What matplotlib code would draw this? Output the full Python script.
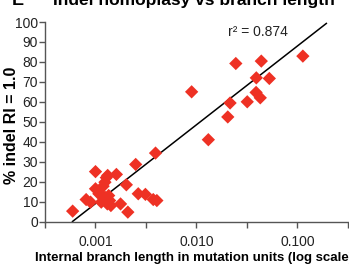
import numpy as np
import matplotlib
matplotlib.use("Agg")
import matplotlib.pyplot as plt
from matplotlib.ticker import FixedLocator, NullLocator

plt.rcParams['font.family'] = ['Liberation Sans', 'DejaVu Sans']

# branch length (mutation units) and % indel RI = 1.0
branch_len = [0.000594, 0.000808, 0.000893, 0.00100, 0.00100, 0.00108, 0.00114,
              0.00119, 0.00124, 0.00128, 0.00132, 0.00124, 0.00135, 0.00138,
              0.00142, 0.00161, 0.00131, 0.00177, 0.00202, 0.00209, 0.00250,
              0.00265, 0.00312, 0.00373, 0.00405, 0.00393,
              0.00895, 0.0131, 0.0204, 0.0215, 0.0245, 0.0318, 0.0389,
              0.0428, 0.0391, 0.0438, 0.0526, 0.113]
pct_ri = [5.2, 11.0, 9.7, 25.0, 16.4, 13.9, 9.7, 17.7, 19.7, 22.0, 23.1, 12.2,
          13.0, 10.5, 8.0, 23.6, 8.8, 8.8, 18.4, 4.7, 28.6, 13.9, 13.6, 11.0,
          10.5, 34.3,
          65.0, 41.0, 52.4, 59.4, 79.2, 60.0, 64.7, 62.0, 72.0, 80.4, 71.7, 82.9]

# regression line (y = slope*log10(x) + intercept)
fit_slope = 39.5
fit_intercept = 127.5
fit_x = [0.000592, 0.193]
r2_text = "r\u00b2 = 0.874"

x_ticks = [10 ** (-3.5 + 0.5 * k) for k in range(7)]
x_ticklabels = ["", "0.001", "", "0.010", "", "0.100", ""]
y_ticks = list(range(0, 101, 10))

fig = plt.figure(figsize=(3.49, 2.72), dpi=100)
W, H = 349, 272
ax = fig.add_axes([45 / W, (H - 221.5) / H, (348 - 45) / W, (221.5 - 22) / H])

fx = np.array(fit_x)
ax.plot(fx, fit_slope * np.log10(fx) + fit_intercept, color="black", lw=1.1, zorder=2)
ax.scatter(branch_len, pct_ri, marker="D", s=46, color="#ee3124", edgecolors="none", zorder=3)

ax.set_xscale("log")
ax.set_xlim(10 ** -3.5, 10 ** -0.5)
ax.set_ylim(0, 100)
ax.xaxis.set_major_locator(FixedLocator(x_ticks))
ax.xaxis.set_minor_locator(NullLocator())
ax.set_xticklabels(x_ticklabels)
ax.set_yticks(y_ticks)

for s in ["top", "right"]:
    ax.spines[s].set_visible(False)
for s in ["left", "bottom"]:
    ax.spines[s].set_color("#555555")
    ax.spines[s].set_linewidth(1.0)
ax.tick_params(axis="both", colors="#555555", labelcolor="#222222", labelsize=10,
               length=4, width=1.0, direction="out")
ax.tick_params(axis="x", pad=6)
ax.tick_params(axis="y", pad=1)

ax.text(0.605, 0.95, r2_text, transform=ax.transAxes, fontsize=10, color="#222222",
        ha="left", va="center")

ax.set_ylabel("% indel RI = 1.0", fontsize=11.5, fontweight="bold")
ax.yaxis.set_label_coords((19 - 45) / 303, (221.5 - 125) / 199.5)
fig.text(35 / W, 1 - 258 / H, "Internal branch length in mutation units (log scale)",
         fontsize=9.5, fontweight="bold", ha="left", va="center")

# panel label and title (clipped at top as in the original)
fig.text(12 / W, 1 - 5 / H, "E", fontsize=13, fontweight="bold", ha="left", va="baseline")
fig.text(53 / W, 1 - 5 / H, "Indel homoplasy vs branch length", fontsize=12.5,
         fontweight="bold", ha="left", va="baseline")

fig.savefig("out.png", dpi=100)
